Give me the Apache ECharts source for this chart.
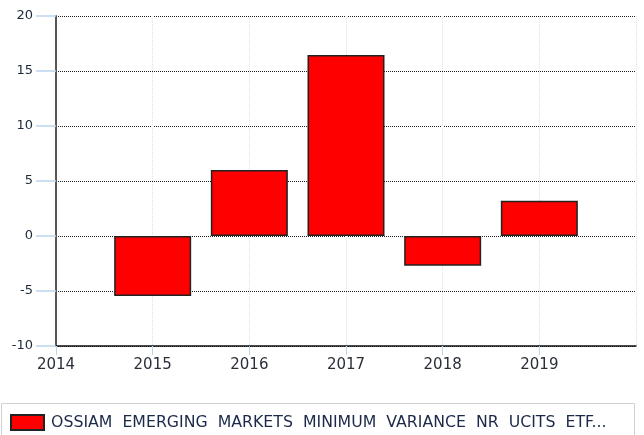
<!DOCTYPE html>
<html>
<head>
<meta charset="utf-8">
<script src="https://cdn.jsdelivr.net/npm/echarts@6/dist/echarts.min.js"></script>
<style>
html, body { margin: 0; padding: 0; background: #fff; }
#main { width: 644px; height: 435px; }
</style>
</head>
<body>
<div id="main"></div>
<script>
var years = [2015, 2016, 2017, 2018, 2019];
var values = [-5.45, 6.0, 16.45, -2.7, 3.2];
var seriesName = 'OSSIAM  EMERGING  MARKETS  MINIMUM  VARIANCE  NR  UCITS  ETF...';

var dom = document.getElementById('main');
var myChart = echarts.init(dom);

var barData = [];
for (var i = 0; i < years.length; i++) {
    barData.push([years[i], values[i]]);
}

var option = {
    animation: false,
    grid: { left: 56, right: 8, top: 16, bottom: 89 },
    graphic: [{
        type: 'rect',
        shape: { x: 1.5, y: 403.5, width: 633, height: 40 },
        style: { fill: 'none', stroke: '#d0d0d0', lineWidth: 1 }
    }],
    legend: {
        left: 10,
        top: 414,
        padding: 0,
        itemWidth: 33,
        itemHeight: 15,
        icon: 'rect',
        textStyle: { fontFamily: 'DejaVu Sans', fontSize: 15.75, color: '#1c2a4a', padding: [0, 0, 0, 2] },
        data: [seriesName]
    },
    xAxis: {
        type: 'value',
        min: 2014,
        max: 2020,
        interval: 1,
        axisLine: { show: true, onZero: false, lineStyle: { color: '#111', width: 1.5 } },
        axisTick: { show: true, length: 9, lineStyle: { color: '#bcd4ee' } },
        axisLabel: {
            margin: 12,
            fontFamily: 'DejaVu Sans',
            fontSize: 15,
            color: '#2a2f3a',
            showMaxLabel: false,
            formatter: function (v) { return v >= 2020 ? '' : String(v); }
        },
        splitLine: { show: true, lineStyle: { color: '#d4e3f4', type: 'dotted' } }
    },
    yAxis: {
        type: 'value',
        min: -10,
        max: 20,
        interval: 5,
        axisLine: { show: true, lineStyle: { color: '#555', width: 2 } },
        axisTick: { show: true, inside: false, length: 20, lineStyle: { color: '#bcd4ee', width: 1.5 } },
        axisLabel: { margin: 23, fontFamily: 'DejaVu Sans', fontSize: 13, color: '#1c2a3a' },
        splitLine: { show: true, lineStyle: { color: '#222', type: [1, 1], width: 1 } }
    },
    series: [{
        name: seriesName,
        type: 'bar',
        barWidth: 77,
        data: barData,
        itemStyle: { color: '#ff0000', borderColor: '#222', borderWidth: 1.5 }
    }]
};

myChart.setOption(option);
</script>
</body>
</html>
